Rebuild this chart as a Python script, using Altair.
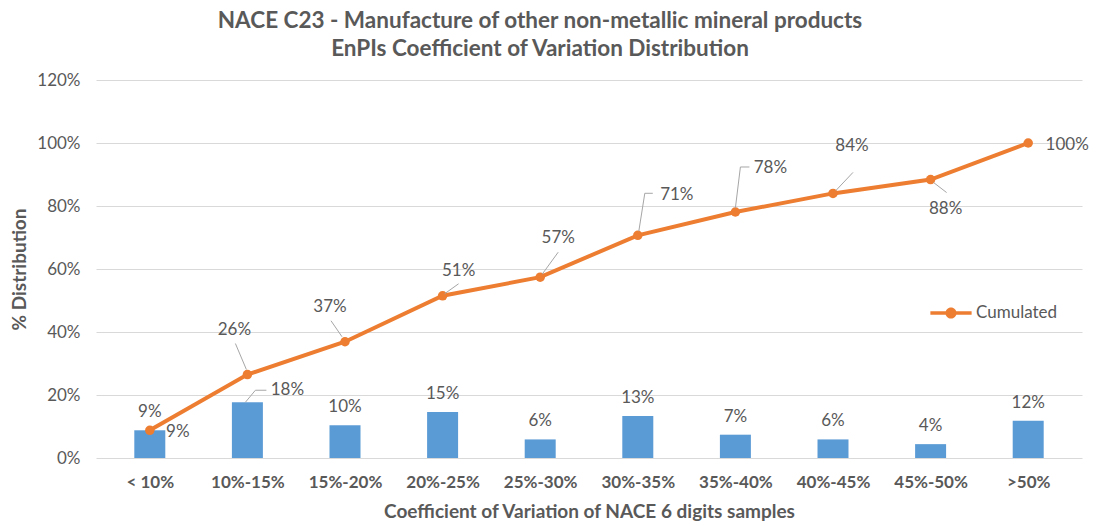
import altair as alt
import pandas as pd

categories = ["< 10%", "10%-15%", "15%-20%", "20%-25%", "25%-30%",
              "30%-35%", "35%-40%", "40%-45%", "45%-50%", ">50%"]
bar_pct = [8.8, 17.7, 10.4, 14.6, 5.9, 13.3, 7.4, 5.9, 4.4, 11.8]
bar_labels = ["9%", "18%", "10%", "15%", "6%", "13%", "7%", "6%", "4%", "12%"]
cum_pct = [8.8, 26.5, 36.9, 51.5, 57.4, 70.7, 78.1, 84.0, 88.4, 100.0]
cum_labels = ["9%", "26%", "37%", "51%", "57%", "71%", "78%", "84%", "88%", "100%"]
series_name = "Cumulated"

# style: label pixel offsets relative to the point / bar top
cum_label_offsets = [(28, 2), (-13, -45), (-15, -35), (16, -25), (18, -39),
                     (39, -40), (35, -44), (19, -47), (15, 29), (39, 2)]
# leader line polylines (pixel offsets relative to the point)
cum_leaders = [
    [],
    [(-12, -31), (-1, -5)],
    [(-14, -21), (-3, -5)],
    [(16, -12), (2, -2)],
    [(18, -25), (2, -3)],
    [(1, -4), (7, -42), (15, -42)],
    [(0, -4), (5, -45), (14, -45)],
    [(20, -21), (3, -3)],
    [(3, 3), (16, 13)],
    [],
]
bar_label_offsets = [(0, -18)] * 10
bar_label_offsets[1] = (40, -12)
bar_leaders = [[] for _ in range(10)]
bar_leaders[1] = [(-2, 0), (8, -12), (19, -12)]

GRAY = "#595959"
FONT = "Lato"
ORANGE = "#ED7D31"
BLUE = "#5B9BD5"
LBL = 17

df = pd.DataFrame({
    "idx": list(range(len(categories))),
    "cat": categories,
    "bar": bar_pct,
    "cum": cum_pct,
    "bar_label": bar_labels,
    "cum_label": cum_labels,
    "series": [series_name] * len(categories),
})

label_expr = "[" + ",".join("'" + c + "'" for c in categories) + "][datum.value]"

x_enc = alt.X("idx:Q",
              scale=alt.Scale(domain=[-0.5, len(categories) - 0.5], nice=False, zero=False),
              axis=alt.Axis(values=list(range(len(categories))), labelExpr=label_expr,
                            title="Coefficient of Variation  of NACE 6 digits samples",
                            grid=False, ticks=False, domain=False,
                            labelFont=FONT, labelFontSize=17, labelFontWeight="bold",
                            labelColor=GRAY, labelPadding=16,
                            titleFont=FONT, titleFontSize=19, titleFontWeight="bold",
                            titleColor=GRAY, titlePadding=12))
y_scale = alt.Scale(domain=[0, 120], nice=False)
y_axis = alt.Axis(values=[0, 20, 40, 60, 80, 100, 120],
                  labelExpr="datum.value + '%'",
                  title="% Distribution", grid=True, gridColor="#D9D9D9",
                  ticks=False, domain=False,
                  labelFont=FONT, labelFontSize=17, labelColor=GRAY, labelPadding=16,
                  titleFont=FONT, titleFontSize=19, titleFontWeight="bold",
                  titleColor=GRAY, titlePadding=7)

base = alt.Chart(df)

bars = base.mark_bar(color=BLUE, size=31).encode(
    x=x_enc, y=alt.Y("bar:Q", scale=y_scale, axis=y_axis))

line = base.mark_line(strokeWidth=4, point=alt.OverlayMarkDef(size=90, filled=True, color=ORANGE)).encode(
    x="idx:Q", y=alt.Y("cum:Q", scale=y_scale),
    color=alt.Color("series:N",
                    scale=alt.Scale(domain=[series_name], range=[ORANGE]),
                    legend=alt.Legend(title=None, orient="none", legendX=834, legendY=212,
                                      symbolType="M-1,-0.08L1,-0.08L1,0.08L-1,0.08Z M-0.27,0A0.27,0.27 0 1,1 0.27,0A0.27,0.27 0 1,1 -0.27,0Z",
                                      symbolSize=1700, symbolStrokeWidth=0,
                                      symbolFillColor=ORANGE, labelOffset=4,
                                      labelFont=FONT, labelFontSize=LBL, labelColor=GRAY)))

layers = [bars, line]

for i in range(len(categories)):
    one = base.transform_filter(alt.datum.idx == i)
    # bar labels
    dx, dy = bar_label_offsets[i]
    layers.append(one.mark_text(dx=dx, dy=dy, font=FONT, fontSize=LBL, color=GRAY).encode(
        x="idx:Q", y=alt.Y("bar:Q", scale=y_scale), text="bar_label:N"))
    pts = bar_leaders[i]
    for (a, b), (c, d) in zip(pts[:-1], pts[1:]):
        layers.append(one.mark_rule(color="#A6A6A6", strokeWidth=1,
                                    xOffset=a, yOffset=b, x2Offset=c, y2Offset=d).encode(
            x="idx:Q", x2="idx", y=alt.Y("bar:Q", scale=y_scale), y2="bar"))
    # cumulated labels
    dx, dy = cum_label_offsets[i]
    layers.append(one.mark_text(dx=dx, dy=dy, font=FONT, fontSize=LBL, color=GRAY).encode(
        x="idx:Q", y=alt.Y("cum:Q", scale=y_scale), text="cum_label:N"))
    pts = cum_leaders[i]
    for (a, b), (c, d) in zip(pts[:-1], pts[1:]):
        layers.append(one.mark_rule(color="#A6A6A6", strokeWidth=1,
                                    xOffset=a, yOffset=b, x2Offset=c, y2Offset=d).encode(
            x="idx:Q", x2="idx", y=alt.Y("cum:Q", scale=y_scale), y2="cum"))

chart = alt.layer(*layers).properties(
    width=986, height=378,
    title=alt.TitleParams(
        ["NACE C23 - Manufacture of other non-metallic mineral products",
         "EnPIs Coefficient of Variation Distribution"],
        font=FONT, fontSize=22.5, fontWeight="bold", color=GRAY,
        anchor="middle", dx=-49, offset=11, lineHeight=28),
    autosize=alt.AutoSizeParams(type="none"),
    padding={"left": 96, "top": 80, "right": 15, "bottom": 68},
).configure(background="white").configure_view(stroke=None)

chart.save("out.html", embed_options={"renderer": "svg", "actions": False})
